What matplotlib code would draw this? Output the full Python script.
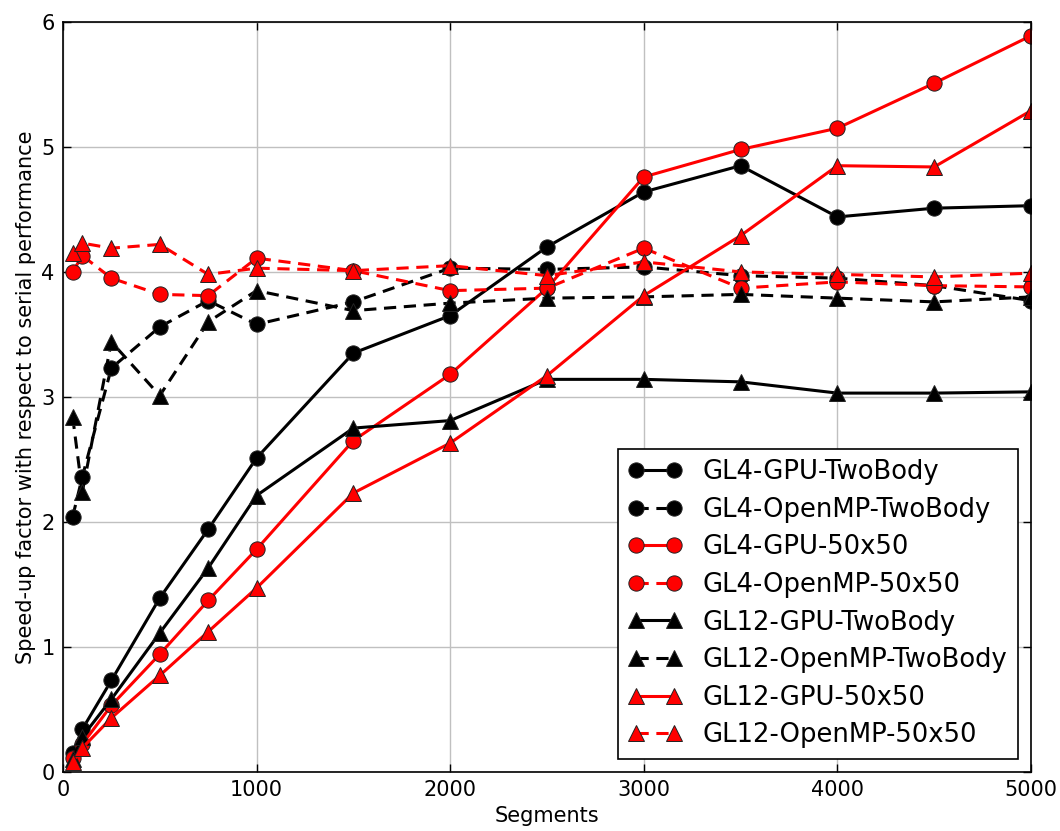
import matplotlib
matplotlib.use("Agg")
import matplotlib.pyplot as plt

segments = [50, 100, 250, 500, 750, 1000, 1500, 2000, 2500, 3000, 3500, 4000, 4500, 5000]

gl4_gpu_twobody = [0.15, 0.34, 0.73, 1.39, 1.94, 2.51, 3.35, 3.65, 4.20, 4.64, 4.85, 4.44, 4.51, 4.53]
gl4_omp_twobody = [2.04, 2.36, 3.23, 3.56, 3.77, 3.58, 3.76, 4.03, 4.02, 4.04, 3.97, 3.95, 3.89, 3.77]
gl4_gpu_50x50 = [0.11, 0.22, 0.53, 0.94, 1.37, 1.78, 2.65, 3.18, 3.87, 4.76, 4.98, 5.15, 5.51, 5.89]
gl4_omp_50x50 = [4.00, 4.13, 3.95, 3.82, 3.81, 4.11, 4.01, 3.85, 3.87, 4.19, 3.87, 3.92, 3.89, 3.88]
gl12_gpu_twobody = [0.10, 0.28, 0.58, 1.11, 1.63, 2.21, 2.75, 2.81, 3.14, 3.14, 3.12, 3.03, 3.03, 3.04]
gl12_omp_twobody = [2.84, 2.24, 3.44, 3.01, 3.60, 3.85, 3.69, 3.75, 3.79, 3.80, 3.82, 3.79, 3.76, 3.80]
gl12_gpu_50x50 = [0.08, 0.19, 0.43, 0.77, 1.12, 1.47, 2.23, 2.63, 3.17, 3.81, 4.29, 4.85, 4.84, 5.29]
gl12_omp_50x50 = [4.15, 4.23, 4.19, 4.22, 3.98, 4.03, 4.01, 4.05, 3.97, 4.08, 4.00, 3.98, 3.96, 3.99]

series = [
    ("GL4-GPU-TwoBody", gl4_gpu_twobody, "black", "-", "o"),
    ("GL4-OpenMP-TwoBody", gl4_omp_twobody, "black", "--", "o"),
    ("GL4-GPU-50x50", gl4_gpu_50x50, "red", "-", "o"),
    ("GL4-OpenMP-50x50", gl4_omp_50x50, "red", "--", "o"),
    ("GL12-GPU-TwoBody", gl12_gpu_twobody, "black", "-", "^"),
    ("GL12-OpenMP-TwoBody", gl12_omp_twobody, "black", "--", "^"),
    ("GL12-GPU-50x50", gl12_gpu_50x50, "red", "-", "^"),
    ("GL12-OpenMP-50x50", gl12_omp_50x50, "red", "--", "^"),
]

plt.rcParams['font.family'] = ['DejaVu Sans']
fig = plt.figure(figsize=(10.6, 8.31), dpi=100, facecolor="white")
ax = fig.add_axes([0.0594, 0.0714, 0.9132, 0.9021])

for label, vals, color, ls, mk in series:
    style = (0, (4, 2.5)) if ls == "--" else "-"
    ax.plot(segments, vals, color=color, linestyle=style, linewidth=2.2,
            marker=mk, markersize=11, markerfacecolor=color,
            markeredgecolor="#222222", markeredgewidth=0.7, label=label)

ax.set_xlim(0, 5000)
ax.set_ylim(0, 6)
ax.set_xticks([0, 1000, 2000, 3000, 4000, 5000])
ax.set_yticks([0, 1, 2, 3, 4, 5, 6])
ax.grid(True, color="#c0c0c0", linestyle="-", linewidth=1)
ax.set_axisbelow(True)
ax.tick_params(direction="in", top=True, right=True, length=6, width=1,
               labelsize=15, pad=6)
for s in ax.spines.values():
    s.set_linewidth(1.2)
ax.set_xlabel("Segments", fontsize=15)
ax.set_ylabel("Speed-up factor with respect to serial performance", fontsize=15)

leg = ax.legend(loc="lower right", numpoints=2, fontsize=18.6, fancybox=False,
                framealpha=1, edgecolor="black", borderaxespad=0.5,
                handlelength=2.1, labelspacing=0.45)
leg.get_frame().set_linewidth(1.2)

fig.savefig("out.png", dpi=100, facecolor="white")
